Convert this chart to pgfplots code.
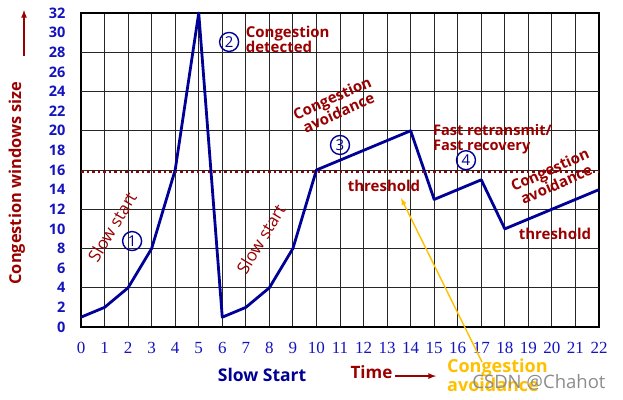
\documentclass[border=0pt]{standalone}
\usepackage{pgfplots}
\pgfplotsset{compat=1.18}
\usepackage{fontspec}
\setmainfont{Open Sans}
\newfontfamily\tms{Liberation Serif}
\definecolor{dblue}{RGB}{0,0,150}
\definecolor{tblue}{RGB}{20,20,190}
\definecolor{dred}{RGB}{155,0,0}
\definecolor{ylw}{RGB}{255,192,0}
\begin{document}
\begin{tikzpicture}
\path[use as bounding box] (0,0) rectangle (623pt,399pt);
\begin{axis}[at={(81pt,72pt)}, anchor=south west, scale only axis,
  width=518pt, height=314pt,
  xmin=0, xmax=22, ymin=0, ymax=32,
  clip=false,
  xtick={0,...,22}, ytick={0,2,...,32},
  extra y ticks={4,8,...,28}, extra y tick labels={},
  extra y tick style={grid=major},
  xmajorgrids=true,
  major tick length=0pt,
  grid style={black!85, line width=0.9pt},
  axis line style={black, line width=2pt},
  /pgf/number format/assume math mode=true,
  yticklabel style={font=\bfseries\fontsize{14.5}{14.5}\selectfont, text=tblue, xshift=-12pt},
  xticklabel style={font=\tms\fontsize{17}{17}\selectfont, text=tblue, yshift=-12pt},
]
\addplot[dblue, line width=2.8pt, line join=round] coordinates {
(0,1) (1,2) (2,4) (3,8) (4,16) (5,32) (6,1) (7,2) (8,4) (9,8) (10,16)
(11,17) (12,18) (13,19) (14,20) (15,13) (16,14) (17,15) (18,10)
(19,11) (20,12) (21,13) (22,14)};
\addplot[dred, line width=2.5pt, dash pattern=on 2.5pt off 3pt] coordinates {(0,15.8) (22,15.8)};

\begin{scope}[font=\bfseries\fontsize{15}{15}\selectfont, text=dred]
\node[anchor=west, align=left] at (axis cs:6.85,29.35) {Congestion\\detected};
\node at (axis cs:12.87,14.37) {threshold};
\node[anchor=west, align=left, font=\bfseries\fontsize{14.6}{15}\selectfont] at (axis cs:14.8,19.1) {Fast retransmit/\\Fast recovery};
\node at (axis cs:20.13,9.48) {threshold};
\end{scope}
\coordinate (ca1) at (axis cs:10.8,22.6);
\coordinate (ca2) at (axis cs:20.05,15.3);
\coordinate (ss1) at (axis cs:1.32,10.2);
\coordinate (ss2) at (axis cs:7.64,8.97);
\coordinate (yl) at (axis cs:-2.72,14.68);
\begin{scope}[every node/.style={circle, draw=dblue, line width=1.4pt, inner sep=0pt, minimum size=19pt, text=dblue, font=\fontsize{15}{15}\selectfont}]
\node at (axis cs:2.17,8.76) {1};
\node at (axis cs:6.29,29.05) {2};
\node at (axis cs:11.0,18.55) {3};
\node at (axis cs:16.35,17.0) {4};
\end{scope}

\node[font=\bfseries\fontsize{17.5}{17.5}\selectfont, text=dblue] at (axis cs:7.69,-4.9) {Slow Start};
\node[anchor=west, font=\bfseries\fontsize{17}{17}\selectfont, text=dred] at (axis cs:11.3,-4.6) {Time};
\draw[dred, line width=1.6pt, -latex] (axis cs:13.34,-5.0) -- (axis cs:15.08,-5.0);
\node[anchor=west, align=left, font=\bfseries\fontsize{18}{17.5}\selectfont, text=ylw] at (axis cs:15.4,-4.95) {Congestion\\avoidance};
\draw[ylw, line width=1.4pt, -latex] (axis cs:17.03,-3.57) -- (axis cs:13.59,13.15);
\draw[dred, line width=1.6pt, -latex] (axis cs:-2.42,27.6) -- (axis cs:-2.42,32.3);
\node[font=\fontsize{18.5}{18.5}\selectfont, text=black!45] at (axis cs:19.45,-5.6) {CSDN @Chahot};
\end{axis}
\begin{scope}[font=\bfseries\fontsize{15}{14}\selectfont, text=dred]
\node[align=center, rotate=24] at (ca1) {Congestion\\avoidance};
\node[align=center, rotate=24] at (ca2) {Congestion\\avoidance};
\end{scope}
\begin{scope}[font=\fontsize{17}{17}\selectfont, text=dred]
\node[rotate=59] at (ss1) {Slow start};
\node[rotate=59] at (ss2) {Slow start};
\end{scope}
\node[rotate=90, font=\bfseries\fontsize{16.4}{16.4}\selectfont, text=dred] at (yl) {Congestion windows size};
\end{tikzpicture}
\end{document}
